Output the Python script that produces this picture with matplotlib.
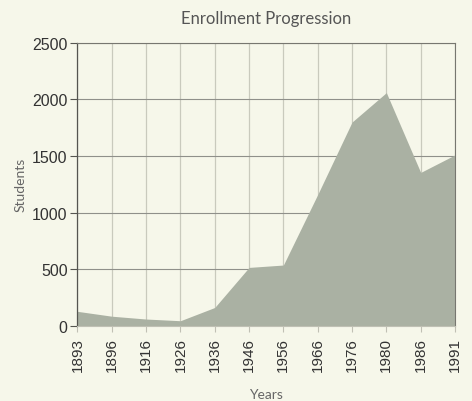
import matplotlib
matplotlib.use("Agg")
import matplotlib.pyplot as plt
import numpy as np

plt.rcParams["font.family"] = ["Liberation Sans", "DejaVu Sans"]

years = ["1893", "1896", "1916", "1926", "1936", "1946", "1956", "1966", "1976", "1980", "1986", "1991"]
students = [128, 85, 60, 45, 162, 516, 537, 1160, 1800, 2060, 1355, 1510]

bg = "#f6f7ea"
fill_color = "#aab1a3"

fig = plt.figure(figsize=(4.72, 4.02), dpi=100, facecolor=bg)
ax = fig.add_axes([0.164, 0.187, 0.800, 0.704])
ax.set_facecolor(bg)

x = np.arange(len(years))
ax.fill_between(x, students, 0, color=fill_color, linewidth=0, zorder=2)

ax.set_xlim(0, len(years) - 1)
ax.set_ylim(0, 2500)
ax.set_yticks([0, 500, 1000, 1500, 2000, 2500])
ax.set_xticks(x)
ax.set_xticklabels(years, rotation=90)
ax.tick_params(axis="x", labelsize=11, labelcolor="#333333")
ax.tick_params(axis="y", labelsize=11.5, labelcolor="#333333")

ax.xaxis.grid(True, color="#c9cabd", linewidth=0.9, zorder=1)
ax.yaxis.grid(True, color="#8f908a", linewidth=0.8, zorder=1)
ax.set_axisbelow(True)

for s in ["top", "right"]:
    ax.spines[s].set_color("#777770")
    ax.spines[s].set_linewidth(0.8)
ax.spines["left"].set_color("#555550")
ax.spines["left"].set_linewidth(0.9)
ax.spines["bottom"].set_color("#bfc0b4")
ax.spines["bottom"].set_linewidth(0.8)

ax.tick_params(axis="y", length=5, width=0.8, color="#555550", pad=2)
ax.tick_params(axis="x", length=4, width=0.8, color="#c0c0b4", pad=4)

ax.set_title("Enrollment Progression", fontsize=12, family="Lato", color="#555555", pad=14)
ax.set_ylabel("Students", fontsize=10, family="Lato", color="#666666", labelpad=4)
ax.set_xlabel("Years", fontsize=10, family="Lato", color="#666666", labelpad=12)

fig.savefig("out.png", dpi=100, facecolor=bg)
